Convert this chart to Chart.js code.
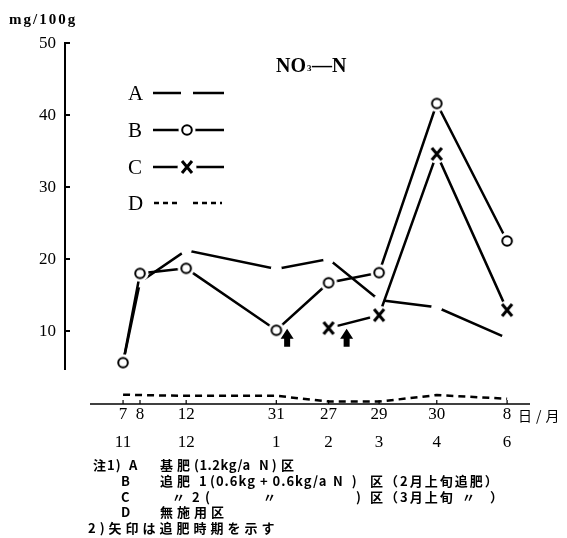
<!DOCTYPE html>
<html>
<head>
<meta charset="utf-8">
<script src="https://cdn.jsdelivr.net/npm/chart.js@4"></script>
<style>
  html, body { margin: 0; padding: 0; background: #fff; }
  #wrap { position: relative; width: 567px; height: 538px; }
</style>
</head>
<body>
<div id="wrap"><canvas id="c"></canvas></div>
<script>
/* NO3-N (mg/100g) por fecha de muestreo, parcelas A–D. */

const DAY_LABELS   = ['7', '8', '12', '31', '27', '29', '30', '8'];
const MONTH_LABELS = ['11', '', '12', '1', '2', '3', '4', '6'];
// posición en el eje (días desde el 7/11, tal como está dibujado)
const AXIS_POS     = [0, 9.4, 35, 85, 114, 142, 174, 213];

const SERIES_A = [5.6, 16.8, 21.2, 18.6, 20.0, 14.3, 13.3, 9.0];
const SERIES_B = [5.6, 18.0, 18.7, 10.1, 16.7, 18.1, 41.6, 22.5];
const SERIES_C = [null, null, null, null, 10.4, 12.2, 34.6, 12.9];
const SERIES_D = [1.15, 1.1, 1.0, 1.0, 0.2, 0.2, 1.1, 0.6];

const Y_TICKS = [10, 20, 30, 40, 50];

// flechas = momento del abonado de cobertura (2月上旬, 3月上旬)
const ARROW_POS    = [91, 124];
const ARROW_TOP    = 10.3;
const ARROW_BOTTOM = 7.8;

const SERIF = "'Liberation Serif', 'DejaVu Serif', serif";
const JP    = "'Noto Sans CJK JP', sans-serif";

/* Marcadores con halo blanco: el trazo se corta antes de llegar al símbolo. */
function circleMarker() {
  const c = document.createElement('canvas');
  c.width = c.height = 18;
  const g = c.getContext('2d');
  g.fillStyle = '#fff';
  g.beginPath(); g.arc(9, 9, 8.5, 0, Math.PI * 2); g.fill();
  g.strokeStyle = '#000'; g.lineWidth = 2;
  g.beginPath(); g.arc(9, 9, 4.8, 0, Math.PI * 2); g.stroke();
  return c;
}

function crossMarker() {
  const c = document.createElement('canvas');
  c.width = c.height = 20;
  const g = c.getContext('2d');
  g.fillStyle = '#fff';
  g.beginPath(); g.arc(10, 10, 9.5, 0, Math.PI * 2); g.fill();
  g.strokeStyle = '#000'; g.lineWidth = 3;
  g.beginPath();
  g.moveTo(5, 4); g.lineTo(15, 16);
  g.moveTo(15, 4); g.lineTo(5, 16);
  g.stroke();
  return c;
}

const CIRCLE = circleMarker();
const CROSS  = crossMarker();

const toXY = (arr) => arr.map((v, i) => ({ x: AXIS_POS[i], y: v }));

function txt(ctx, s, x, y, font, align = 'left', sp = 0) {
  ctx.font = font;
  ctx.letterSpacing = sp + 'px';
  ctx.textAlign = align;
  ctx.textBaseline = 'middle';
  ctx.fillText(s, x, y);
  ctx.letterSpacing = '0px';
}

const NOTE_FONT = `bold 13px ${JP}`;
// [texto, x, y, espaciado]
const NOTES = [
  ['注1)', 93, 465, 1], ['A', 129, 465, 0],
  ['基肥', 160, 465, 4], ['(1.2kg/a', 194, 465, 0.5], ['N)', 259, 465, 3], ['区', 281, 465, 0],
  ['B', 121, 481, 0],
  ['追肥', 160, 481, 4], ['1', 199, 481, 0], ['(0.6kg + 0.6kg/a', 210, 481, 1], ['N )', 333, 481, 3],
  ['区（2月上旬追肥）', 370, 481, 2],
  ['C', 121, 497, 0],
  ['〃', 172, 497, 0], ['2', 192, 497, 0], ['(', 205, 497, 0], ['〃', 263, 497, 0],
  [')', 356, 497, 0], ['区（3月上旬', 370, 497, 2], ['〃', 462, 497, 0], ['）', 490, 497, 0],
  ['D', 121, 512, 0], ['無施用区', 160, 512, 4],
  ['2)矢印は追肥時期を示す', 88, 528, 4],
];

const decorations = {
  id: 'decorations',
  beforeDatasetsDraw(chart) {
    const { ctx, chartArea: ca } = chart;
    const x = chart.scales.x, y = chart.scales.y;
    ctx.save();
    ctx.strokeStyle = '#000';
    ctx.lineWidth = 2;

    // eje Y (no llega hasta el 0)
    ctx.beginPath();
    ctx.moveTo(ca.left, y.getPixelForValue(50));
    ctx.lineTo(ca.left, y.getPixelForValue(4.6));
    ctx.stroke();
    Y_TICKS.forEach(t => {
      const py = y.getPixelForValue(t);
      ctx.beginPath(); ctx.moveTo(ca.left - 1, py); ctx.lineTo(ca.left + 5, py); ctx.stroke();
    });

    // eje X
    const y0 = y.getPixelForValue(0) + 1;
    ctx.lineWidth = 1.6;
    ctx.beginPath();
    ctx.moveTo(ca.left + 25, y0); ctx.lineTo(ca.right, y0);
    ctx.stroke();
    ctx.lineWidth = 1.2;
    AXIS_POS.forEach(p => {
      const px = x.getPixelForValue(p);
      ctx.beginPath(); ctx.moveTo(px, y0); ctx.lineTo(px, y0 - 4); ctx.stroke();
    });
    ctx.restore();
  },
  afterDatasetsDraw(chart) {
    const { ctx } = chart;
    const x = chart.scales.x, y = chart.scales.y;
    ctx.save();
    ctx.fillStyle = '#000';
    ARROW_POS.forEach(p => {
      const px = x.getPixelForValue(p);
      const top = y.getPixelForValue(ARROW_TOP);
      const bot = y.getPixelForValue(ARROW_BOTTOM);
      const neck = top + (bot - top) * 0.55;
      ctx.beginPath();
      ctx.moveTo(px, top);
      ctx.lineTo(px + 6.5, neck);
      ctx.lineTo(px + 3, neck);
      ctx.lineTo(px + 3, bot);
      ctx.lineTo(px - 3, bot);
      ctx.lineTo(px - 3, neck);
      ctx.lineTo(px - 6.5, neck);
      ctx.closePath();
      ctx.fill();
    });
    ctx.restore();
  },
  afterDraw(chart) {
    const { ctx, chartArea: ca } = chart;
    const x = chart.scales.x, y = chart.scales.y;
    ctx.save();
    ctx.fillStyle = '#000';
    ctx.strokeStyle = '#000';

    // unidad y etiquetas del eje Y
    txt(ctx, 'mg/100g', 9, 20, `bold 15px ${SERIF}`, 'left', 2);
    Y_TICKS.forEach(t => txt(ctx, String(t), ca.left - 9, y.getPixelForValue(t) + 1, `17px ${SERIF}`, 'right'));

    // etiquetas del eje X: día y mes
    const y0 = y.getPixelForValue(0);
    DAY_LABELS.forEach((s, i) => txt(ctx, s, x.getPixelForValue(AXIS_POS[i]), y0 + 12, `17px ${SERIF}`, 'center'));
    MONTH_LABELS.forEach((s, i) => s && txt(ctx, s, x.getPixelForValue(AXIS_POS[i]), y0 + 40, `17px ${SERIF}`, 'center'));
    txt(ctx, '日/月', 518, y0 + 13, `14px ${JP}`, 'left', 4);

    // título
    txt(ctx, 'NO', 276, 67, `bold 20px ${SERIF}`);
    txt(ctx, '3', 307, 69, `bold 9px ${SERIF}`);
    txt(ctx, '—N', 312, 67, `bold 20px ${SERIF}`);

    // leyenda
    const LX = 128, L1 = 153, L2 = 224;
    const rows = [93, 130, 167, 203];
    ['A', 'B', 'C', 'D'].forEach((s, i) => txt(ctx, s, LX, rows[i] + 1, `21px ${SERIF}`));
    ctx.lineWidth = 2.5;
    ctx.beginPath();
    ctx.moveTo(L1, rows[0]); ctx.lineTo(181, rows[0]);
    ctx.moveTo(193, rows[0]); ctx.lineTo(L2, rows[0]);
    ctx.moveTo(L1, rows[1]); ctx.lineTo(L2, rows[1]);
    ctx.moveTo(L1, rows[2]); ctx.lineTo(L2, rows[2]);
    ctx.stroke();
    ctx.drawImage(CIRCLE, 187 - 9, rows[1] - 9);
    ctx.drawImage(CROSS, 187 - 10, rows[2] - 10);
    ctx.setLineDash([5, 4]);
    ctx.beginPath();
    ctx.moveTo(154, rows[3]); ctx.lineTo(181, rows[3]);
    ctx.moveTo(193, rows[3]); ctx.lineTo(222, rows[3]);
    ctx.stroke();
    ctx.setLineDash([]);

    // notas
    NOTES.forEach(([s, nx, ny, sp]) => txt(ctx, s, nx, ny, NOTE_FONT, 'left', sp));
    ctx.restore();
  },
};

new Chart(document.getElementById('c'), {
  type: 'line',
  data: {
    datasets: [
      {
        label: 'A', data: toXY(SERIES_A), order: 4,
        borderColor: '#000', borderWidth: 2.5,
        pointRadius: 5.5, pointBackgroundColor: '#fff', pointBorderWidth: 0,
      },
      {
        label: 'B', data: toXY(SERIES_B), order: 1,
        borderColor: '#000', borderWidth: 2.5,
        pointStyle: CIRCLE,
      },
      {
        label: 'C', data: toXY(SERIES_C), order: 2,
        borderColor: '#000', borderWidth: 2.5,
        pointStyle: CROSS, spanGaps: false,
      },
      {
        label: 'D', data: toXY(SERIES_D), order: 3,
        borderColor: '#000', borderWidth: 2.5, borderDash: [7, 5],
        pointRadius: 0,
      },
    ],
  },
  options: {
    responsive: true, maintainAspectRatio: false,
    animation: false,
    events: [],
    layout: { padding: { left: 65, right: 37, top: 43, bottom: 135 } },
    elements: { line: { tension: 0, fill: false } },
    plugins: { legend: { display: false }, tooltip: { enabled: false } },
    scales: {
      x: { type: 'linear', min: -32.2, max: 225.7, display: false },
      y: { min: 0, max: 50, display: false },
    },
  },
  plugins: [decorations],
});
</script>
</body>
</html>
